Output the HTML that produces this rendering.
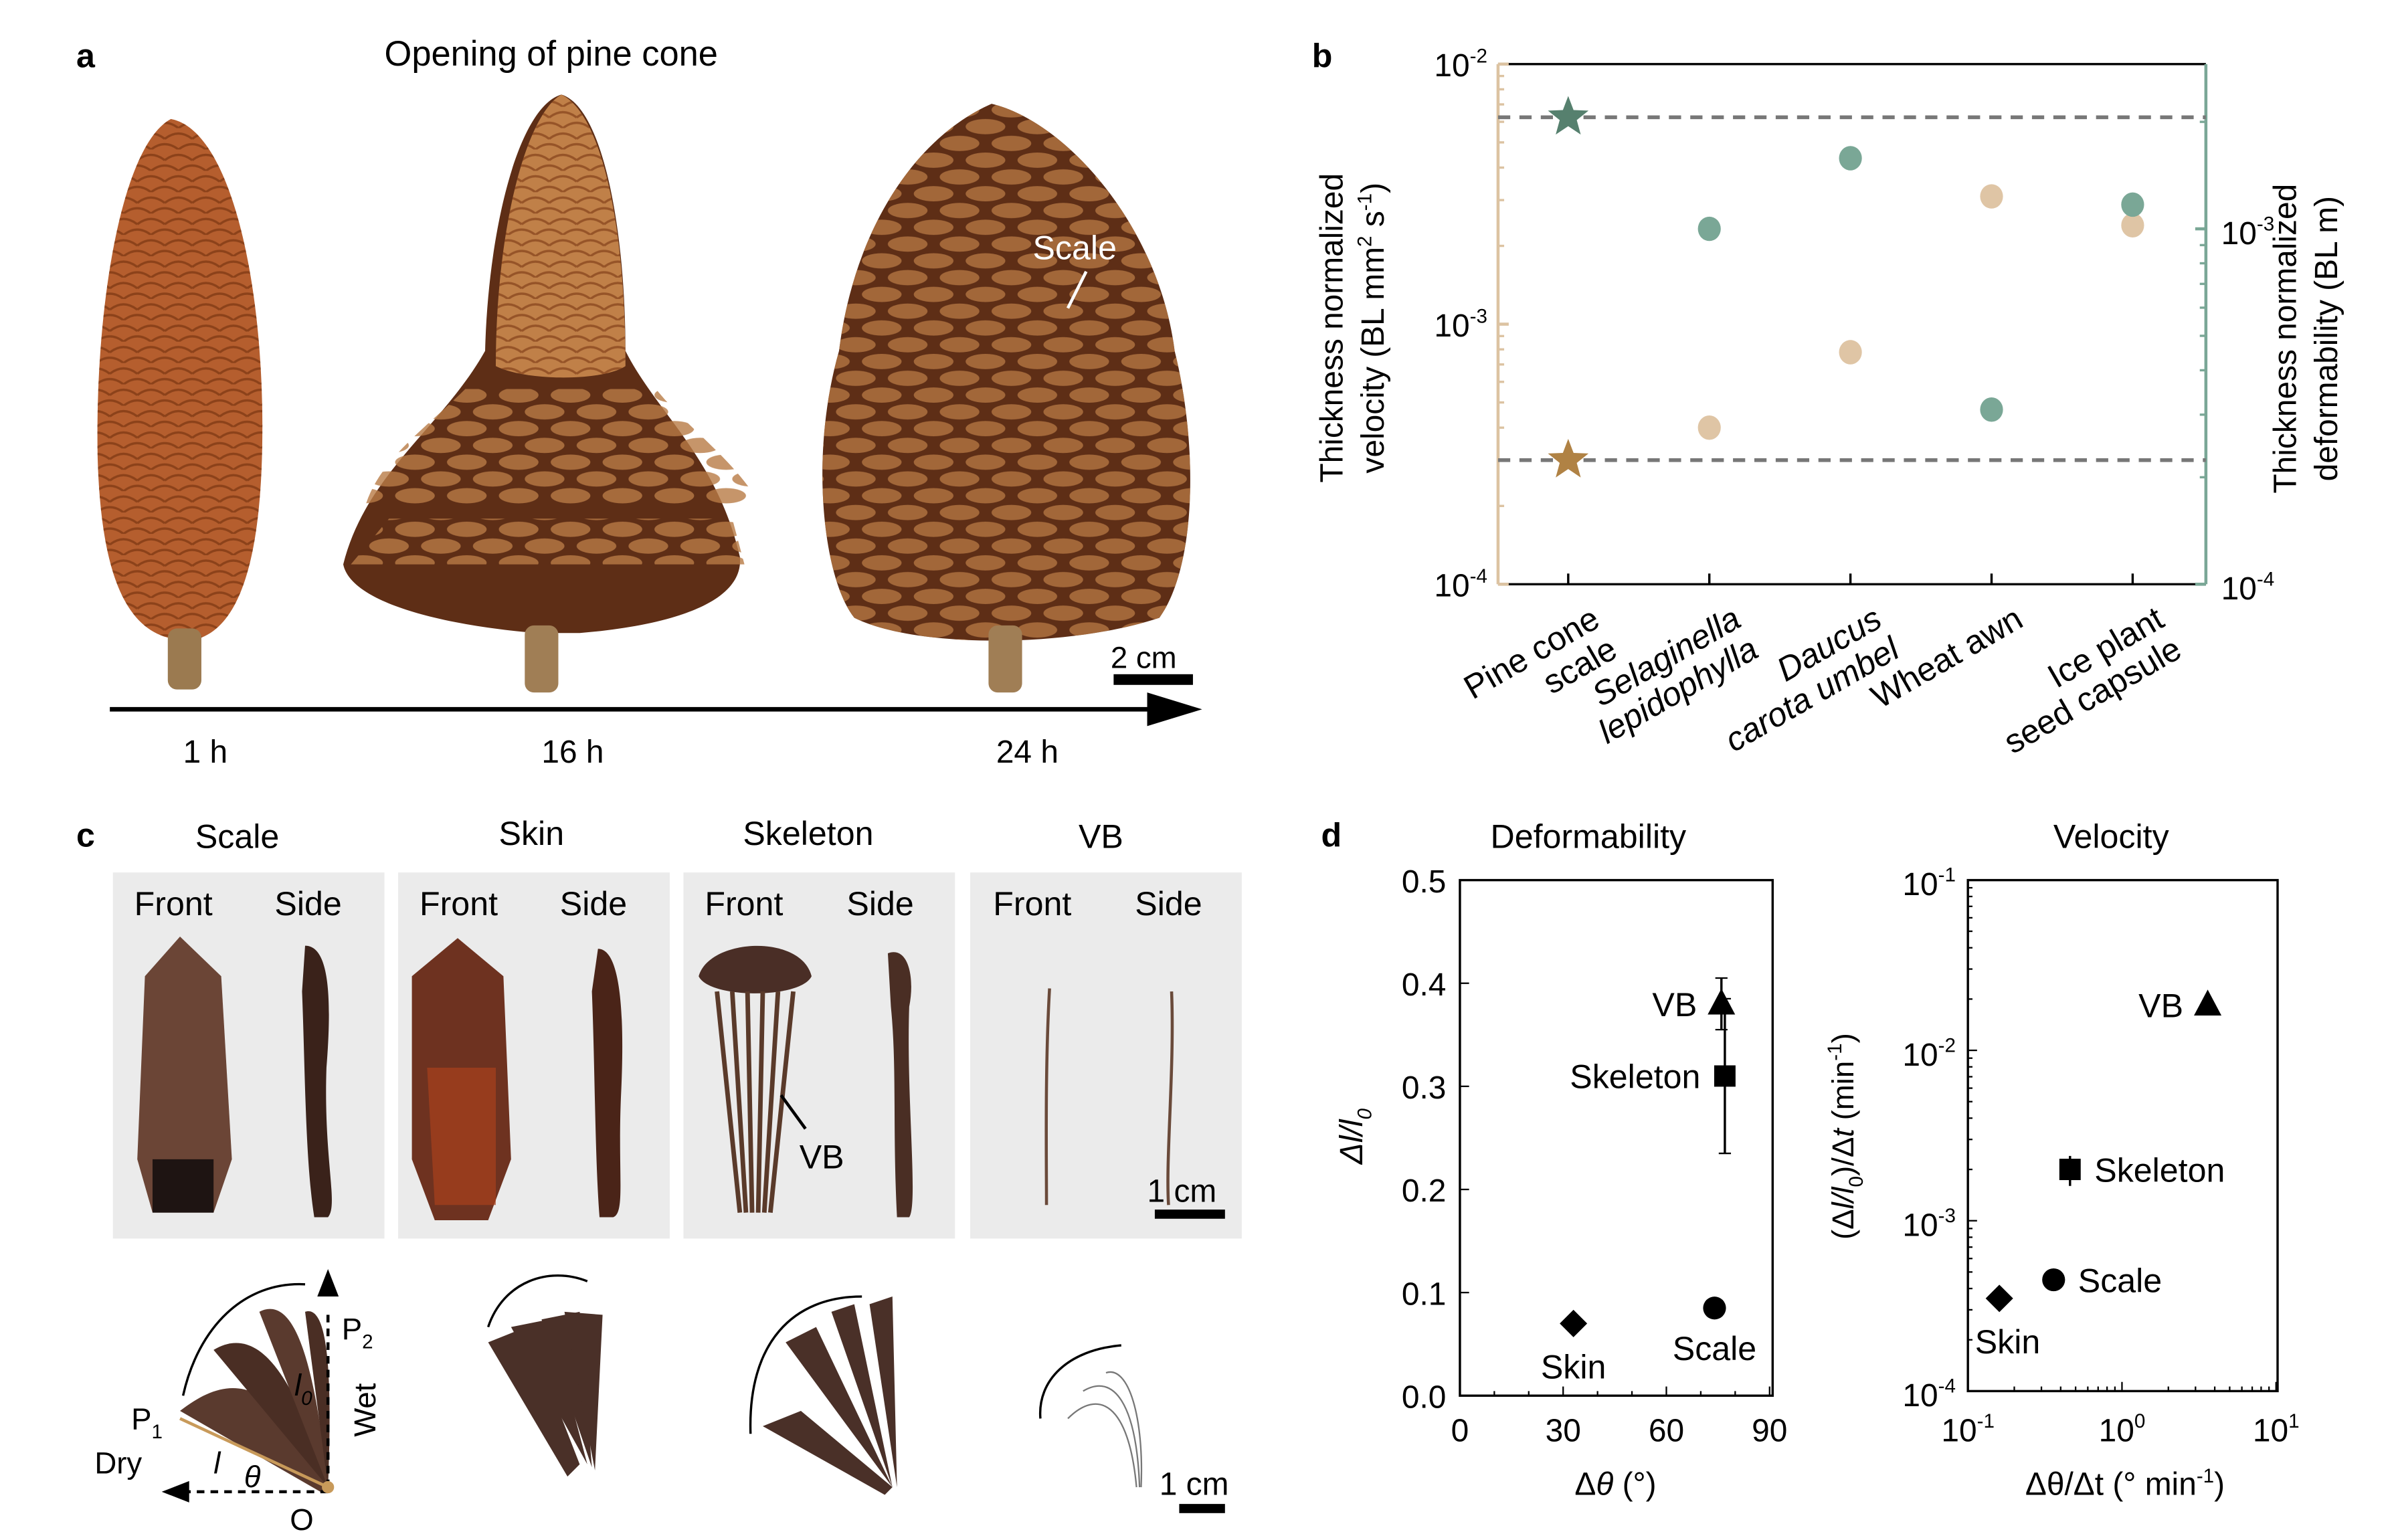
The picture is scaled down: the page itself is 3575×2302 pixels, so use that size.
<!DOCTYPE html>
<html><head><meta charset="utf-8"><style>
html,body{margin:0;padding:0;background:#fff;}
svg{display:block;font-family:"Liberation Sans",Arial,sans-serif;}
</style></head><body>
<svg id="fig" xmlns="http://www.w3.org/2000/svg" width="3575" height="2302" viewBox="0 0 1568 1009.6">
<defs>
<pattern id="scalesA" width="18" height="14" patternUnits="userSpaceOnUse">
<path d="M0,7 Q9,0 18,7" stroke="#7a3612" stroke-width="1.5" fill="none"/>
<path d="M-9,14 Q0,7 9,14 M9,14 Q18,7 27,14" stroke="#7a3612" stroke-width="1.5" fill="none"/>
</pattern>
<pattern id="scalesB" width="34" height="22" patternUnits="userSpaceOnUse">
<ellipse cx="17" cy="6" rx="13" ry="5" fill="#b87a45"/>
<ellipse cx="0" cy="17" rx="13" ry="5" fill="#b87a45"/>
<ellipse cx="34" cy="17" rx="13" ry="5" fill="#b87a45"/>
</pattern>
</defs>
<!-- Panel a -->
<g>
<text x="50" y="44" font-size="22" font-weight="bold">a</text>
<text x="252" y="43" font-size="23">Opening of pine cone</text>
<g>
<path d="M112,78 C80,95 62,200 64,300 C66,370 80,410 110,418 L132,418 C165,405 172,340 172,280 C172,180 150,85 112,78 Z" fill="#b55e2e"/>
<path d="M112,78 C80,95 62,200 64,300 C66,370 80,410 110,418 L132,418 C165,405 172,340 172,280 C172,180 150,85 112,78 Z" fill="url(#scalesA)" opacity="0.7"/>
<rect x="110" y="412" width="22" height="40" rx="6" fill="#9b7a50"/>
</g>
<g>
<path d="M368,62 C340,70 320,150 318,230 C290,280 240,310 225,370 C230,395 290,410 352,415 L380,415 C440,410 488,395 485,365 C470,300 430,270 410,230 C410,150 395,70 368,62Z" fill="#5e2e16"/>
<path d="M305,255 C280,280 250,300 240,330 L498,330 C480,300 450,280 430,255Z" fill="url(#scalesB)" opacity="0.8"/>
<path d="M255,340 L480,340 L488,370 L230,370Z" fill="url(#scalesB)" opacity="0.8"/>
<path d="M368,62 C345,75 325,150 325,240 C345,250 395,250 410,240 C410,150 395,75 368,62Z" fill="#c08048"/>
<path d="M368,62 C345,75 325,150 325,240 C345,250 395,250 410,240 C410,150 395,75 368,62Z" fill="url(#scalesA)" opacity="0.6"/>
<rect x="344" y="410" width="22" height="44" rx="6" fill="#a07e55"/>
</g>
<g>
<path d="M650,68 C600,90 560,150 550,230 C530,300 540,380 560,405 C600,425 700,425 760,405 C785,370 785,290 770,230 C760,150 700,80 650,68Z" fill="#5e2e16"/>
<path d="M650,68 C600,90 560,150 550,230 C530,300 540,380 560,405 C600,425 700,425 760,405 C785,370 785,290 770,230 C760,150 700,80 650,68Z" fill="url(#scalesB)" opacity="0.75"/>
<rect x="648" y="410" width="22" height="44" rx="6" fill="#a07e55"/>
</g>
<text x="677" y="170" font-size="22" fill="#fff">Scale</text>
<line x1="712" y1="178" x2="700" y2="202" stroke="#fff" stroke-width="2"/>
<text x="728" y="438" font-size="20">2 cm</text>
<rect x="730" y="442" width="52" height="7" fill="#000"/>
<line x1="72" y1="465" x2="760" y2="465" stroke="#000" stroke-width="3"/>
<polygon points="752,454 788,465 752,476" fill="#000"/>
<text x="120" y="500" font-size="21">1 h</text>
<text x="355" y="500" font-size="21">16 h</text>
<text x="653" y="500" font-size="21">24 h</text>
</g>

<!-- Panel b -->
<g id="panelB">
<text x="860" y="44" font-size="22" font-weight="bold">b</text>
<text transform="translate(880,215) rotate(-90)" text-anchor="middle" font-size="21">Thickness normalized</text>
<text transform="translate(907,215) rotate(-90)" text-anchor="middle" font-size="21">velocity (BL mm<tspan dy="-8" font-size="13">2</tspan><tspan dy="8"> s</tspan><tspan dy="-8" font-size="13">-1</tspan><tspan dy="8">)</tspan></text>
<text transform="translate(1505,222) rotate(-90)" text-anchor="middle" font-size="21">Thickness normalized</text>
<text transform="translate(1532,222) rotate(-90)" text-anchor="middle" font-size="21">deformability (BL m)</text>
</g>

<!-- Panel c -->
<g>
<text x="50" y="555" font-size="22" font-weight="bold">c</text>
<text x="128" y="556" font-size="22">Scale</text>
<text x="327" y="554" font-size="22">Skin</text>
<text x="487" y="554" font-size="22">Skeleton</text>
<text x="707" y="556" font-size="22">VB</text>
<rect x="74" y="572" width="178" height="240" fill="#ebebeb"/>
<rect x="261" y="572" width="178" height="240" fill="#ebebeb"/>
<rect x="448" y="572" width="178" height="240" fill="#ebebeb"/>
<rect x="636" y="572" width="178" height="240" fill="#ebebeb"/>
<g font-size="22">
<text x="88" y="600">Front</text><text x="180" y="600">Side</text>
<text x="275" y="600">Front</text><text x="367" y="600">Side</text>
<text x="462" y="600">Front</text><text x="555" y="600">Side</text>
<text x="651" y="600">Front</text><text x="744" y="600">Side</text>
</g>
<path d="M95,640 L118,614 L145,640 L152,760 L140,795 L100,795 L90,760Z" fill="#6b4536"/>
<path d="M100,760 L140,760 L140,795 L100,795Z" fill="#1e1412"/>
<path d="M200,620 C215,620 218,650 214,700 C212,760 222,790 215,798 L206,798 C200,760 200,700 198,650Z" fill="#3a221a"/>
<path d="M270,640 L300,615 L330,640 L335,760 L320,800 L285,800 L270,760Z" fill="#6e3220"/>
<path d="M280,700 L325,700 L325,790 L285,790Z" fill="#a8401c" opacity="0.7"/>
<path d="M392,622 C406,622 410,660 407,720 C405,770 410,795 402,798 L393,798 C390,760 390,700 388,650Z" fill="#4a2418"/>
<path d="M458,640 C465,615 525,612 532,640 C525,655 465,655 458,640Z" fill="#4a2e26"/>
<g stroke="#5a3a2a" stroke-width="3">
<line x1="470" y1="650" x2="485" y2="795"/><line x1="480" y1="650" x2="489" y2="795"/><line x1="490" y1="650" x2="493" y2="795"/><line x1="500" y1="650" x2="497" y2="795"/><line x1="510" y1="650" x2="501" y2="795"/><line x1="520" y1="650" x2="505" y2="795"/>
</g>
<text x="524" y="766" font-size="22">VB</text>
<line x1="528" y1="740" x2="512" y2="718" stroke="#000" stroke-width="2"/>
<path d="M582,625 C595,620 600,640 596,660 C594,720 602,790 596,798 L588,798 C585,740 588,700 584,660Z" fill="#4a2e24"/>
<path d="M688,648 C685,700 686,760 686,790" stroke="#6a4a3a" stroke-width="2" fill="none"/>
<path d="M768,650 C770,700 764,760 766,790" stroke="#6a4a3a" stroke-width="2" fill="none"/>
<text x="752" y="788" font-size="21">1 cm</text>
<rect x="757" y="793" width="46" height="6" fill="#000"/>
<g>
<path d="M118,925 C150,900 180,900 215,975 L210,978 Z" fill="#5a3a2e"/>
<path d="M140,885 C165,870 190,890 215,975Z" fill="#4a2e24"/>
<path d="M170,860 C190,850 205,880 215,975Z" fill="#5a3a2e"/>
<path d="M200,860 C215,855 218,900 215,975Z" fill="#4a2e24"/>
<line x1="118" y1="930" x2="215" y2="975" stroke="#c89a5a" stroke-width="2"/>
<line x1="215" y1="975" x2="215" y2="862" stroke="#000" stroke-dasharray="5,4" stroke-width="2"/>
<polygon points="208,850 215,832 222,850" fill="#000"/>
<line x1="215" y1="978" x2="115" y2="978" stroke="#000" stroke-dasharray="5,4" stroke-width="2"/>
<polygon points="124,971 106,978 124,985" fill="#000"/>
<path d="M120,915 C130,870 160,840 200,842" stroke="#000" fill="none" stroke-width="1.5"/>
<circle cx="215" cy="975" r="4" fill="#c89a5a"/>
<text x="224" y="878" font-size="20">P<tspan font-size="13" dy="6">2</tspan></text>
<text x="86" y="937" font-size="20">P<tspan font-size="13" dy="6">1</tspan></text>
<text x="62" y="966" font-size="20">Dry</text>
<text transform="translate(246,942) rotate(-90)" font-size="20">Wet</text>
<text x="193" y="915" font-size="20" font-style="italic">l<tspan font-size="13" dy="6">0</tspan></text>
<text x="140" y="966" font-size="20" font-style="italic">l</text>
<text x="160" y="975" font-size="20" font-style="italic">θ</text>
<text x="190" y="1003" font-size="20">O</text>
</g>
<g fill="#4a3028">
<path d="M320,880 L345,870 L380,960 L372,968Z"/><path d="M335,870 L360,865 L385,960Z"/><path d="M355,865 L380,860 L388,962Z"/><path d="M370,860 L395,862 L390,964Z"/>
<path d="M320,870 C330,840 360,830 385,840" stroke="#000" fill="none" stroke-width="1.5"/>
</g>
<g fill="#4a3028">
<path d="M500,935 L525,925 L585,975 L580,980Z"/><path d="M515,880 L535,870 L585,975Z"/><path d="M545,860 L560,855 L585,975Z"/><path d="M570,855 L585,850 L588,975Z"/>
<path d="M492,940 C490,880 520,850 565,850" stroke="#000" fill="none" stroke-width="1.5"/>
</g>
<g stroke="#777" fill="none" stroke-width="1">
<path d="M700,930 C720,910 740,920 745,975"/><path d="M710,912 C730,900 745,920 747,975"/><path d="M725,900 C740,895 750,930 748,975"/>
<path d="M682,930 C680,905 700,885 735,882" stroke="#000" stroke-width="1.5"/>
</g>
<text x="760" y="980" font-size="21">1 cm</text>
<rect x="773" y="986" width="30" height="6" fill="#000"/>
</g>

<!-- Panel d -->
<g id="panelD">
<text x="866" y="555" font-size="22" font-weight="bold">d</text>
<text x="977" y="556" font-size="22">Deformability</text>
<text x="1346" y="556" font-size="22">Velocity</text>
<text transform="translate(893,745) rotate(-90)" text-anchor="middle" font-size="21" font-style="italic">Δl/l<tspan font-size="13" dy="6">0</tspan></text>
<text x="1059" y="980" text-anchor="middle" font-size="21">Δ<tspan font-style="italic">θ</tspan> (°)</text>
<text transform="translate(1215,745) rotate(-90)" text-anchor="middle" font-size="20">(Δ<tspan font-style="italic">l/l</tspan><tspan font-size="13" dy="6">0</tspan><tspan dy="-6">)/Δ</tspan><tspan font-style="italic">t</tspan> (min<tspan font-size="13" dy="-8">-1</tspan><tspan dy="8">)</tspan></text>
<text x="1393" y="980" text-anchor="middle" font-size="21">Δθ/Δt (° min<tspan font-size="13" dy="-8">-1</tspan><tspan dy="8">)</tspan></text>
</g>

<script>
var NS='http://www.w3.org/2000/svg';
// ---- Panel b data ----
var bCategories=['Pine cone scale','Selaginella lepidophylla','Daucus carota umbel','Wheat awn','Ice plant seed capsule'];
var bVelocity=[3.0e-4,4.0e-4,7.8e-4,3.1e-3,2.4e-3];
var bDeformability=[2.06e-3,1.0e-3,1.58e-3,3.1e-4,1.17e-3];
var bLeftTicks=[-2,-3,-4];
var bRightTicks=[-3,-4];
// ---- Panel d data ----
var dLabels=['Skin','Scale','Skeleton','VB'];
var dAngle=[33,74,77,76];
var dAngleErr=[0,2,3,1];
var dStrain=[0.07,0.085,0.31,0.38];
var dStrainErr=[0,0.004,0.075,0.025];
var dRate=[0.16,0.36,0.46,3.6];
var dStrainRate=[3.5e-4,4.5e-4,2.0e-3,1.85e-2];
var dStrainRateErr=[0,0.5e-4,0.4e-3,0.2e-3];
var dLinTicksX=[0,30,60,90];
var dLinTicksY=[0,0.1,0.2,0.3,0.4,0.5];
var dLogTicksX=[-1,0,1];
var dLogTicksY=[-1,-2,-3,-4];

function el(tag,attrs,parent){var e=document.createElementNS(NS,tag);for(var k in attrs)e.setAttribute(k,attrs[k]);parent.appendChild(e);return e;}
function sup(t,x,y,base,exp,anchor,size){
  var e=el('text',{x:x,y:y,'font-size':size||20,'text-anchor':anchor||'start'},t);
  e.textContent=base;var s=el('tspan',{dy:-9,'font-size':13},e);s.textContent=exp;return e;}

// ----- Panel b -----
var gb=document.getElementById('panelB');
var bx0=982,bx1=1446,by0=383,by1=42;
function bX(i){return 1028+i*92.5;}
function bYL(v){return by0-(Math.log10(v)+4)*170.5;}
function bYR(v){return by0-(Math.log10(v)+4)*233;}
var a;
a=el('line',{x1:bx0,y1:by1,x2:bx1,y2:by1,stroke:'#000','stroke-width':1.5},gb);

a=el('line',{x1:bx0,y1:by0,x2:bx1,y2:by0,stroke:'#000','stroke-width':1.5},gb);

a=el('line',{x1:bx0,y1:by1,x2:bx0,y2:by0,stroke:'#dcc3a2','stroke-width':2},gb);

a=el('line',{x1:bx1,y1:by1,x2:bx1,y2:by0,stroke:'#7aa796','stroke-width':2},gb);

for(var d=-4;d<-2;d++){for(var m=2;m<10;m++){var y=bYL(m*Math.pow(10,d));el('line',{x1:bx0,y1:y,x2:bx0+4,y2:y,stroke:'#dcc3a2','stroke-width':1.5},gb);}}
for(var d=-4;d<-2;d++){for(var m=2;m<10;m++){var y=bYR(m*Math.pow(10,d));if(y>by1)el('line',{x1:bx1,y1:y,x2:bx1-4,y2:y,stroke:'#7aa796','stroke-width':1.5},gb);}}
bLeftTicks.forEach(function(t){var y=bYL(Math.pow(10,t));el('line',{x1:bx0,y1:y,x2:bx0+7,y2:y,stroke:'#dcc3a2','stroke-width':2},gb);
  var e=sup(gb,975,y+8,'10',String(t),'end',21);});
bRightTicks.forEach(function(t){var y=bYR(Math.pow(10,t));el('line',{x1:bx1,y1:y,x2:bx1-7,y2:y,stroke:'#7aa796','stroke-width':2},gb);
  var e=sup(gb,1456,y+10,'10',String(t),'start',21);});
a=el('line',{x1:bx0,y1:bYR(bDeformability[0]),x2:bx1,y2:bYR(bDeformability[0]),stroke:'#777','stroke-width':2.5,'stroke-dasharray':'8,6'},gb);

a=el('line',{x1:bx0,y1:bYL(bVelocity[0]),x2:bx1,y2:bYL(bVelocity[0]),stroke:'#777','stroke-width':2.5,'stroke-dasharray':'8,6'},gb);

function star(cx,cy,r,fill){var p=[];for(var k=0;k<10;k++){var rr=k%2?r*0.42:r;var an=-Math.PI/2+k*Math.PI/5;p.push((cx+rr*Math.cos(an)).toFixed(1)+','+(cy+rr*Math.sin(an)).toFixed(1));}return el('polygon',{points:p.join(' '),fill:fill},gb);}
bCategories.forEach(function(c,i){
  var x=bX(i);
  el('line',{x1:x,y1:by0,x2:x,y2:by0-7,stroke:'#000','stroke-width':1.5},gb);
  var m1,m2;
  if(i===0){m1=star(x,bYL(bVelocity[i]),14,'#b08244');m2=star(x,bYR(bDeformability[i]),14,'#56806e');}
  else{m1=el('ellipse',{cx:x,cy:bYL(bVelocity[i]),rx:7.5,ry:8,fill:'#dfc5a5'},gb);
       m2=el('ellipse',{cx:x,cy:bYR(bDeformability[i]),rx:7.5,ry:8,fill:'#7aa796'},gb);}
  
  
});
var bLabelLines=[['Pine cone','scale',false],['Selaginella','lepidophylla',true],['Daucus','carota umbel',true],['Wheat awn','',false],['Ice plant','seed capsule',false]];
bLabelLines.forEach(function(L,i){
  var x=bX(i)+22,y=410;
  var t=el('text',{transform:'translate('+x+','+y+') rotate(-30)','text-anchor':'end','font-size':22},gb);
  
  var s1=el('tspan',{x:0,y:0},t);s1.textContent=L[0];if(L[2])s1.setAttribute('font-style','italic');
  if(L[1]){var s2=el('tspan',{x:0,y:23},t);s2.textContent=L[1];if(L[2])s2.setAttribute('font-style','italic');}
});

// ----- Panel d -----
var gd=document.getElementById('panelD');
var lx0=957,lx1=1162,ly0=915,ly1=577;
function lX(v){return lx0+v/90*203;}
function lY(v){return ly0-v/0.5*338;}
a=el('rect',{x:lx0,y:ly1,width:lx1-lx0,height:ly0-ly1,fill:'none',stroke:'#000','stroke-width':1.5},gd);

dLinTicksX.forEach(function(t){var x=lX(t);el('line',{x1:x,y1:ly0,x2:x,y2:ly0-6,stroke:'#000'},gd);
  var e=el('text',{x:x,y:ly0+30,'text-anchor':'middle','font-size':21},gd);e.textContent=t;
  });
dLinTicksY.forEach(function(t){var y=lY(t);el('line',{x1:lx0,y1:y,x2:lx0+6,y2:y,stroke:'#000'},gd);
  var e=el('text',{x:lx0-9,y:y+8,'text-anchor':'end','font-size':21},gd);e.textContent=t.toFixed(1);
  });
for(var v=10;v<90;v+=10){if(v%30)el('line',{x1:lX(v),y1:ly0,x2:lX(v),y2:ly0-3,stroke:'#000'},gd);}
var rx0=1290,rx1=1493,ry0=912,ry1=577;
function rX(v){return 1290+(Math.log10(v)+1)*101;}
function rY(v){return ry0-(Math.log10(v)+4)*111.7;}
a=el('rect',{x:rx0,y:ry1,width:rx1-rx0,height:ry0-ry1,fill:'none',stroke:'#000','stroke-width':1.5},gd);

dLogTicksX.forEach(function(t){var x=rX(Math.pow(10,t));el('line',{x1:x,y1:ry0,x2:x,y2:ry0-6,stroke:'#000'},gd);
  var e=sup(gd,x,ry0+33,'10',String(t),'middle',21);});
dLogTicksY.forEach(function(t){var y=rY(Math.pow(10,t));el('line',{x1:rx0,y1:y,x2:rx0+6,y2:y,stroke:'#000'},gd);
  var e=sup(gd,rx0-8,y+10,'10',String(t),'end',21);});
for(var d=-1;d<1;d++)for(var m=2;m<10;m++){var x=rX(m*Math.pow(10,d));el('line',{x1:x,y1:ry0,x2:x,y2:ry0-3,stroke:'#000'},gd);}
for(var d=-4;d<-1;d++)for(var m=2;m<10;m++){var y=rY(m*Math.pow(10,d));el('line',{x1:rx0,y1:y,x2:rx0+3,y2:y,stroke:'#000'},gd);}
function marker(kind,x,y){
  if(kind===0)return el('polygon',{points:(x)+','+(y-9)+' '+(x+9)+','+y+' '+x+','+(y+9)+' '+(x-9)+','+y,fill:'#000'},gd);
  if(kind===1)return el('circle',{cx:x,cy:y,r:7.5,fill:'#000'},gd);
  if(kind===2)return el('rect',{x:x-7,y:y-7,width:14,height:14,fill:'#000'},gd);
  return el('polygon',{points:x+','+(y-10)+' '+(x+9)+','+(y+7)+' '+(x-9)+','+(y+7),fill:'#000'},gd);
}
var lLab=[[-30,36,'middle'],[0,34,'middle'],[-16,8,'end'],[-16,8,'end']];
var rLab=[[-16,36,'start'],[16,8,'start'],[16,8,'start'],[-16,8,'end']];
dLabels.forEach(function(lbl,i){
  var x=lX(dAngle[i]),y=lY(dStrain[i]);
  if(dStrainErr[i]){el('line',{x1:x,y1:lY(dStrain[i]-dStrainErr[i]),x2:x,y2:lY(dStrain[i]+dStrainErr[i]),stroke:'#000','stroke-width':1.5},gd);
    el('line',{x1:x-4,y1:lY(dStrain[i]-dStrainErr[i]),x2:x+4,y2:lY(dStrain[i]-dStrainErr[i]),stroke:'#000'},gd);
    el('line',{x1:x-4,y1:lY(dStrain[i]+dStrainErr[i]),x2:x+4,y2:lY(dStrain[i]+dStrainErr[i]),stroke:'#000'},gd);}
  if(dAngleErr[i])el('line',{x1:lX(dAngle[i]-dAngleErr[i]),y1:y,x2:lX(dAngle[i]+dAngleErr[i]),y2:y,stroke:'#000','stroke-width':1.5},gd);
  var m=marker(i,x,y);
  var t=el('text',{x:x+lLab[i][0]+(i===0?30:0),y:y+lLab[i][1],'text-anchor':lLab[i][2],'font-size':22},gd);t.textContent=lbl;
  
  var x2=rX(dRate[i]),y2=rY(dStrainRate[i]);
  if(dStrainRateErr[i]){el('line',{x1:x2,y1:rY(dStrainRate[i]-dStrainRateErr[i]),x2:x2,y2:rY(dStrainRate[i]+dStrainRateErr[i]),stroke:'#000','stroke-width':1.5},gd);}
  var m2=marker(i,x2,y2);
  var t2=el('text',{x:x2+rLab[i][0],y:y2+rLab[i][1],'text-anchor':rLab[i][2],'font-size':22},gd);t2.textContent=lbl;
  
});
</script>
</svg>
</body></html>
